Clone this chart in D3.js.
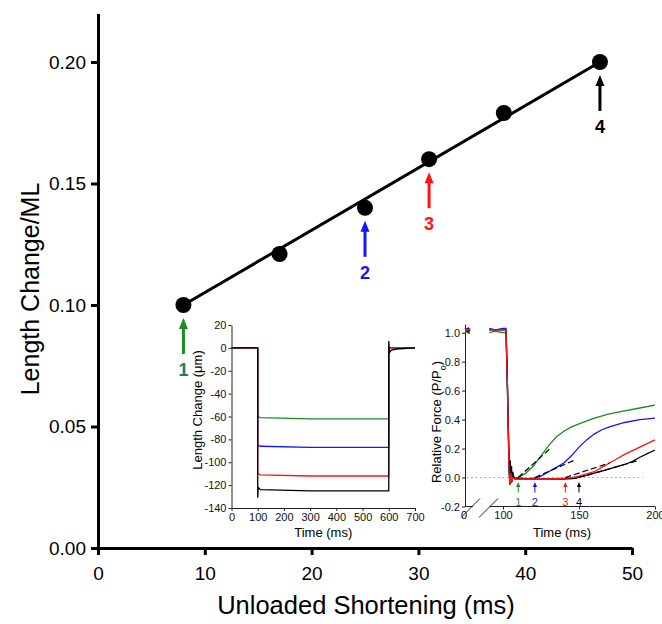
<!DOCTYPE html>
<html>
<head>
<meta charset="utf-8">
<script src="https://cdn.jsdelivr.net/npm/d3@7"></script>
<style>
  body { margin: 0; background: #fff; }
  svg { display: block; }
</style>
</head>
<body>
<div id="chart"></div>
<script>
// ---- main panel data
const shortening = [8, 17, 25, 31, 38, 47];
const lengthChange = [0.100, 0.121, 0.140, 0.160, 0.179, 0.200];
const fitX = [8, 47];
const fitY = [0.100, 0.200];
const xTicks = [0, 10, 20, 30, 40, 50];
const yTicks = [0, 0.05, 0.10, 0.15, 0.20];
const arrowPoints = [0, 2, 3, 5];          // which points get an arrow
const arrowLabels = ["1", "2", "3", "4"];
const arrowColors = ["#1a8c1a", "#1414ff", "#ff1414", "#000000"];
const arrowTextColors = ["#1e7d5e", "#1414ff", "#ff1414", "#000000"];

// ---- inset A: length steps (um) vs time (ms)
const lenTicksX = [0, 100, 200, 300, 400, 500, 600, 700];
const lenTicksY = [-140, -120, -100, -80, -60, -40, -20, 0, 20];
const lenTime = [0, 100, 100, 110, 300, 600, 600, 700];
const lenGreen = [0, 0, -60, -61, -62, -62, 0, 0];
const lenBlue = [0, 0, -85, -86, -87, -87, 0, 0];
const lenRed = [0, 0, -110, -111, -112, -112, 0, 0];
const lenTimeBlack = [0, 100, 100, 102, 110, 300, 600, 600, 603, 610, 630, 700];
const lenBlack = [0, 0, -131, -122, -124, -125, -125, 6, -4, -2, -1, 0];

// ---- inset B: relative force vs time (ms), broken time axis
const forceTicksY = [-0.2, 0.0, 0.2, 0.4, 0.6, 0.8, 1.0];
const forceTicksX = [100, 150, 200];
const preTime = [0, 1, 2, 3];
const preGreen = [1.00, 1.01, 1.00, 1.00];
const preBlue = [1.03, 1.02, 1.03, 1.02];
const preRed = [1.02, 1.02, 1.02, 1.02];
const preBlack = [1.02, 1.02, 1.01, 1.02];

const timeGreen = [91, 95, 100, 102, 103, 104, 104.6, 105.2, 105.8, 106.5, 108, 110, 115, 120, 125, 130, 135, 140, 145, 150, 160, 170, 180, 190, 200];
const forceGreen = [1.00, 1.01, 1.00, 1.00, 0.55, 0.05, -0.03, 0.04, -0.02, 0.01, 0, 0, 0.03, 0.08, 0.15, 0.22, 0.28, 0.32, 0.35, 0.37, 0.41, 0.44, 0.46, 0.48, 0.50];
const timeBlue = [91, 95, 100, 102, 103, 104, 104.6, 105.2, 105.8, 106.5, 108, 110, 115, 120, 125, 130, 135, 140, 145, 150, 155, 160, 165, 170, 180, 190, 200];
const forceBlue = [1.03, 1.02, 1.03, 1.03, 0.60, 0.06, -0.04, 0.05, -0.02, 0.01, -0.01, -0.01, -0.01, -0.005, 0.01, 0.04, 0.07, 0.10, 0.15, 0.21, 0.26, 0.30, 0.33, 0.35, 0.38, 0.40, 0.41];
const timeRed = [91, 95, 100, 102, 103, 104, 104.6, 105.2, 105.8, 106.5, 108, 110, 120, 130, 140, 145, 150, 155, 160, 165, 170, 175, 180, 190, 200];
const forceRed = [1.02, 1.02, 1.02, 1.02, 0.60, 0.04, -0.05, 0.03, -0.03, 0, -0.01, -0.01, -0.01, -0.01, -0.005, 0, 0.01, 0.025, 0.04, 0.07, 0.10, 0.13, 0.16, 0.21, 0.26];
const timeBlack = [91, 95, 100, 102, 103, 104, 104.4, 104.8, 105.2, 105.6, 106, 106.5, 107, 108, 110, 120, 130, 140, 148, 150, 155, 160, 165, 170, 175, 180, 185, 190, 195, 200];
const forceBlack = [1.02, 1.02, 1.02, 1.02, 0.60, 0.10, -0.05, 0.12, -0.04, 0.08, -0.03, 0.04, 0, -0.01, -0.005, -0.01, -0.01, -0.01, -0.005, 0.005, 0.015, 0.03, 0.045, 0.06, 0.075, 0.09, 0.11, 0.14, 0.165, 0.19];

// dashed linear fits of the early rise
const fitStart = [110, 121, 141, 150];
const fitEnd = [131, 147, 170, 190];
const fitEndForce = [0.20, 0.12, 0.10, 0.12];
const insetArrowTime = [110, 121, 141, 150];

const font = "Arial, 'Liberation Sans', sans-serif";

const svg = d3.select("#chart")
  .append("svg")
    .attr("width", 662)
    .attr("height", 624)
    .style("font-family", font);

// ================= main panel
const x = d3.scaleLinear().domain([0, 50]).range([98, 632]);
const y = d3.scaleLinear().domain([0, 0.22]).range([548, 13.4]);

const xAxis = svg.append("g")
  .attr("transform", `translate(0, ${y(0)})`)
  .call(d3.axisBottom(x).tickValues(xTicks).tickSize(7).tickSizeOuter(0).tickPadding(12));
const yAxis = svg.append("g")
  .attr("transform", `translate(${x(0)}, 0)`)
  .call(d3.axisLeft(y).tickValues(yTicks).tickSize(7).tickSizeOuter(0).tickPadding(5)
    .tickFormat(d => d.toFixed(2)));

[xAxis, yAxis].forEach(g => {
  g.select(".domain").attr("stroke", "#000").attr("stroke-width", 3);
  g.selectAll(".tick line").attr("stroke", "#000").attr("stroke-width", 3);
  g.selectAll(".tick text")
    .attr("fill", "#000")
    .style("font-family", font)
    .style("font-size", "19px");
});

svg.append("text")
  .attr("x", 366)
  .attr("y", 614)
  .attr("text-anchor", "middle")
  .style("font-size", "25.5px")
  .text("Unloaded Shortening (ms)");

svg.append("text")
  .attr("transform", "translate(39, 289) rotate(-90)")
  .attr("text-anchor", "middle")
  .style("font-size", "25px")
  .text("Length Change/ML");

svg.append("line")
  .attr("x1", x(fitX[0])).attr("y1", y(fitY[0]))
  .attr("x2", x(fitX[1])).attr("y2", y(fitY[1]))
  .attr("stroke", "#000")
  .attr("stroke-width", 3);

svg.selectAll("circle.pt")
  .data(shortening)
  .join("circle")
    .attr("class", "pt")
    .attr("cx", d => x(d))
    .attr("cy", (d, i) => y(lengthChange[i]))
    .attr("r", 8)
    .attr("fill", "#000");

const arrows = svg.selectAll("g.arrow")
  .data(arrowPoints)
  .join("g")
    .attr("class", "arrow")
    .attr("transform", p => `translate(${x(shortening[p])}, ${y(lengthChange[p])})`);

arrows.append("line")
  .attr("x1", 0).attr("x2", 0)
  .attr("y1", 20).attr("y2", 49)
  .attr("stroke", (p, i) => arrowColors[i])
  .attr("stroke-width", 3);
arrows.append("path")
  .attr("d", "M0,13 L-4.5,24 L4.5,24 Z")
  .attr("fill", (p, i) => arrowColors[i]);
arrows.append("text")
  .attr("x", 0)
  .attr("y", 71)
  .attr("text-anchor", "middle")
  .attr("fill", (p, i) => arrowTextColors[i])
  .style("font-size", "18px")
  .style("font-weight", "bold")
  .text((p, i) => arrowLabels[i]);

// helper for the small axes
const styleInsetAxis = g => {
  g.select(".domain").attr("stroke", "#222").attr("stroke-width", 1);
  g.selectAll(".tick line").attr("stroke", "#222");
  g.selectAll(".tick text")
    .attr("fill", "#111")
    .style("font-family", font)
    .style("font-size", "11px");
};

// ================= inset A
const ax = d3.scaleLinear().domain([0, 700]).range([231.5, 415]);
const ay = d3.scaleLinear().domain([-140, 20]).range([508, 325]);

svg.append("g")
  .attr("transform", `translate(0, ${ay(-140)})`)
  .call(d3.axisBottom(ax).tickValues(lenTicksX).tickSize(3).tickSizeOuter(0).tickPadding(2))
  .call(styleInsetAxis);
svg.append("g")
  .attr("transform", `translate(${ax(0)}, 0)`)
  .call(d3.axisLeft(ay).tickValues(lenTicksY).tickSize(3).tickSizeOuter(0).tickPadding(2)
    .tickFormat(d => String(d)))
  .call(styleInsetAxis);

svg.append("text")
  .attr("x", ax(350)).attr("y", 537)
  .attr("text-anchor", "middle")
  .style("font-size", "13px")
  .text("Time (ms)");
svg.append("text")
  .attr("transform", "translate(202, 410) rotate(-90)")
  .attr("text-anchor", "middle")
  .style("font-size", "13px")
  .text("Length Change (\u03bcm)");

const lenLine = d3.line().x(d => ax(d[0])).y(d => ay(d[1]));
const lenTraces = [
  { t: lenTime, v: lenGreen, c: "#1a8c1a" },
  { t: lenTime, v: lenBlue, c: "#1414ff" },
  { t: lenTime, v: lenRed, c: "#ff1414" },
  { t: lenTimeBlack, v: lenBlack, c: "#000" }
];
svg.selectAll("path.len")
  .data(lenTraces)
  .join("path")
    .attr("class", "len")
    .attr("d", s => lenLine(s.t.map((t, i) => [t, s.v[i]])))
    .attr("fill", "none")
    .attr("stroke", s => s.c)
    .attr("stroke-width", 1.3);

// ================= inset B
const bxPre = d3.scaleLinear().domain([0, 3]).range([465, 470]);
const bx = d3.scaleLinear().domain([100, 200]).range([503, 655]);
const by = d3.scaleLinear().domain([-0.2, 1.06]).range([506.5, 324]);

svg.append("g")
  .attr("transform", `translate(${bxPre(0)}, 0)`)
  .call(d3.axisLeft(by).tickValues(forceTicksY).tickSize(3).tickSizeOuter(0).tickPadding(2)
    .tickFormat(d => d.toFixed(1)))
  .call(styleInsetAxis);

const bxAxis = svg.append("g")
  .attr("transform", `translate(0, ${by(-0.2)})`)
  .call(d3.axisBottom(bx).tickValues(forceTicksX).tickSize(3).tickSizeOuter(0).tickPadding(2));
bxAxis.select(".domain").attr("d", `M${bx(91)},0H${bx(200)}`);
bxAxis.call(styleInsetAxis);

// left stub of the broken axis, its "0" label and the break marks
svg.append("line")
  .attr("x1", bxPre(0)).attr("x2", bxPre(3) + 3)
  .attr("y1", by(-0.2)).attr("y2", by(-0.2))
  .attr("stroke", "#222");
svg.append("text")
  .attr("x", bxPre(0) - 1).attr("y", by(-0.2) + 5)
  .attr("dy", "0.71em")
  .attr("text-anchor", "middle")
  .style("font-size", "11px")
  .text("0");
[bxPre(0) - 4, bxPre(0) + 14].forEach(x0 => {
  svg.append("line")
    .attr("x1", x0).attr("y1", by(-0.2) + 11)
    .attr("x2", x0 + 19).attr("y2", by(-0.2) - 8)
    .attr("stroke", "#222");
});

svg.append("text")
  .attr("x", 562).attr("y", 537)
  .attr("text-anchor", "middle")
  .style("font-size", "13px")
  .text("Time (ms)");
const forceLabel = svg.append("text")
  .attr("transform", "translate(441, 422) rotate(-90)")
  .attr("text-anchor", "middle")
  .style("font-size", "13px");
forceLabel.append("tspan").text("Relative Force (P/P");
forceLabel.append("tspan").attr("baseline-shift", "sub").style("font-size", "9px").text("o");
forceLabel.append("tspan").text(")");

// zero reference
svg.append("line")
  .attr("x1", bxPre(1)).attr("x2", bx(192))
  .attr("y1", by(0)).attr("y2", by(0))
  .attr("stroke", "#999")
  .attr("stroke-width", 1)
  .attr("stroke-dasharray", "1.5,3");

const forceLine = d3.line().x(d => bx(d[0])).y(d => by(d[1]));
const preLine = d3.line().x(d => bxPre(d[0])).y(d => by(d[1]));
const forceTraces = [
  { t: timeGreen, v: forceGreen, pre: preGreen, c: "#1a8c1a" },
  { t: timeBlue, v: forceBlue, pre: preBlue, c: "#1414ff" },
  { t: timeBlack, v: forceBlack, pre: preBlack, c: "#000" },
  { t: timeRed, v: forceRed, pre: preRed, c: "#ff1414" }
];
svg.selectAll("path.force")
  .data(forceTraces)
  .join("path")
    .attr("class", "force")
    .attr("d", s => forceLine(s.t.map((t, i) => [t, s.v[i]])))
    .attr("fill", "none")
    .attr("stroke", s => s.c)
    .attr("stroke-width", 1.3);
svg.selectAll("path.pre")
  .data(forceTraces)
  .join("path")
    .attr("class", "pre")
    .attr("d", s => preLine(preTime.map((t, i) => [t, s.pre[i]])))
    .attr("fill", "none")
    .attr("stroke", s => s.c)
    .attr("stroke-width", 2);

svg.selectAll("line.fit")
  .data(fitStart)
  .join("line")
    .attr("class", "fit")
    .attr("x1", d => bx(d)).attr("y1", by(0))
    .attr("x2", (d, i) => bx(fitEnd[i])).attr("y2", (d, i) => by(fitEndForce[i]))
    .attr("stroke", "#000")
    .attr("stroke-width", 1.2)
    .attr("stroke-dasharray", "6,3");

const smallArrows = svg.selectAll("g.sarrow")
  .data(insetArrowTime)
  .join("g")
    .attr("class", "sarrow")
    .attr("transform", d => `translate(${bx(d)}, ${by(0)})`);
smallArrows.append("line")
  .attr("x1", 0).attr("x2", 0)
  .attr("y1", 8).attr("y2", 15)
  .attr("stroke", (d, i) => arrowColors[i])
  .attr("stroke-width", 1);
smallArrows.append("path")
  .attr("d", "M0,4.5 L-2.2,9.5 L2.2,9.5 Z")
  .attr("fill", (d, i) => arrowColors[i]);
smallArrows.append("text")
  .attr("x", 0).attr("y", 28)
  .attr("text-anchor", "middle")
  .attr("fill", (d, i) => arrowColors[i])
  .style("font-size", "11px")
  .text((d, i) => arrowLabels[i]);
</script>
</body>
</html>
